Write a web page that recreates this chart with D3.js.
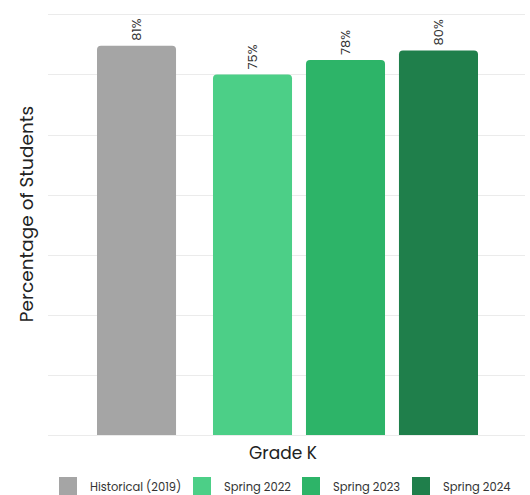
<!DOCTYPE html>
<html>
<head>
<meta charset="utf-8">
<script src="https://cdn.jsdelivr.net/npm/d3@7"></script>
<style>
  html, body { margin: 0; padding: 0; background: #fff; }
  svg { display: block; font-family: "Poppins", "Lato", "Noto Sans", sans-serif; }
</style>
</head>
<body>
<svg id="chart" width="530" height="495"></svg>
<script>
// Grade K results by assessment window
const series = ["Historical (2019)", "Spring 2022", "Spring 2023", "Spring 2024"];
const values = [81, 75, 78, 80];
const colors = ["#a5a5a5", "#4ccf87", "#2db468", "#1f7f4b"];
const category = "Grade K";
const gridTicks = [0, 12.5, 25, 37.5, 50, 62.5, 75, 87.5];

const svg = d3.select("#chart");
const plot = { left: 48, right: 525, top: 12, bottom: 435 };

const y = d3.scaleLinear().domain([0, 88]).range([plot.bottom, plot.top]);
const x = d3.scaleBand().domain(series).range([120, 478]).paddingInner(0.15).paddingOuter(0);
// the historical baseline sits a little apart from the spring windows
const xPos = d => x(d) - (d === series[0] ? 23 : 0);

// horizontal gridlines
svg.append("g")
  .selectAll("line")
  .data(gridTicks)
  .join("line")
  .attr("x1", plot.left).attr("x2", plot.right)
  .attr("y1", d => Math.round(y(d)) + 0.5).attr("y2", d => Math.round(y(d)) + 0.5)
  .attr("stroke", "#ebebeb").attr("stroke-width", 1);

// bars with rounded top corners
const r = 4;
const barPath = (x0, w, yTop, yBot) =>
  `M${x0},${yBot}V${yTop + r}Q${x0},${yTop} ${x0 + r},${yTop}H${x0 + w - r}Q${x0 + w},${yTop} ${x0 + w},${yTop + r}V${yBot}Z`;

const rows = series.map((s, i) => ({ s, v: values[i], c: colors[i] }));

svg.append("g")
  .selectAll("path")
  .data(rows)
  .join("path")
  .attr("d", d => barPath(xPos(d.s), x.bandwidth(), y(d.v), y(0)))
  .attr("fill", d => d.c);

// value labels, rotated
svg.append("g")
  .selectAll("text")
  .data(rows)
  .join("text")
  .attr("transform", d => `translate(${xPos(d.s) + x.bandwidth() / 2 + 4.5},${y(d.v) - 5}) rotate(-90)`)
  .attr("text-anchor", "start")
  .attr("font-size", 13)
  .attr("fill", "#333")
  .text(d => d.v + "%");

// axis titles
svg.append("text")
  .attr("transform", "translate(33,214) rotate(-90)")
  .attr("text-anchor", "middle")
  .attr("font-size", 18.5)
  .attr("fill", "#222")
  .text("Percentage of Students");

svg.append("text")
  .attr("x", 283).attr("y", 459)
  .attr("text-anchor", "middle")
  .attr("font-size", 17)
  .attr("fill", "#222")
  .text(category);

// legend
const legendX = [59, 193, 302, 412];
const legend = svg.append("g")
  .selectAll("g")
  .data(rows)
  .join("g")
  .attr("transform", (d, i) => `translate(${legendX[i]},477)`);
legend.append("rect").attr("width", 18).attr("height", 18).attr("fill", d => d.c);
legend.append("text")
  .attr("x", 31).attr("y", 13.5)
  .attr("font-size", 11.5)
  .attr("fill", "#333")
  .text(d => d.s);
</script>
</body>
</html>
